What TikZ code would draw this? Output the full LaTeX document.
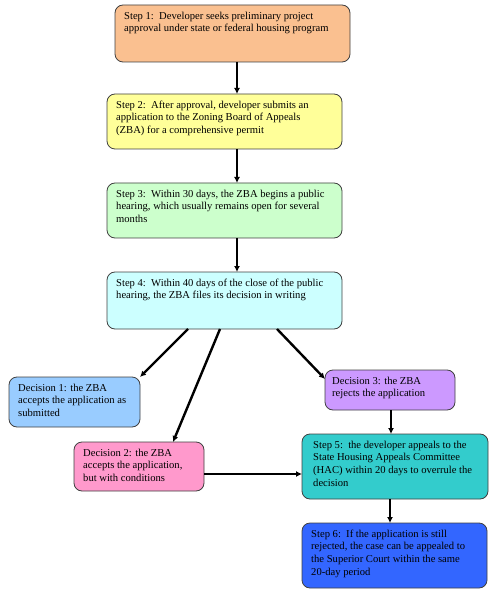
\documentclass[tikz,border=0pt]{standalone}
\usepackage{fontspec}
\setmainfont{Liberation Serif}
\usetikzlibrary{arrows.meta}
\definecolor{cS1}{HTML}{FAC090}
\definecolor{cS2}{HTML}{FFFF99}
\definecolor{cS3}{HTML}{CCFFCC}
\definecolor{cS4}{HTML}{CCFFFF}
\definecolor{cD1}{HTML}{99CCFF}
\definecolor{cD2}{HTML}{FF99CC}
\definecolor{cD3}{HTML}{CC99FF}
\definecolor{cS5}{HTML}{33CCCC}
\definecolor{cS6}{HTML}{3366FF}
\definecolor{edge}{HTML}{404040}
\tikzset{
  box/.style={draw=edge, line width=0.8pt, rounded corners=8pt, inner sep=0pt},
  txt/.style={anchor=north west, inner sep=0pt, align=left, font=\fontsize{10.6}{12.8}\selectfont},
  arr/.style={line width=2.4pt, -{Latex[length=6pt,width=6pt]}}
}
\begin{document}
\begin{tikzpicture}[x=1pt,y=-1pt]
\useasboundingbox (0,0) rectangle (495,593);
% boxes
\draw[box, fill=cS1] (115,5) rectangle (350,62);
\coordinate (s1s) at (237,62);
\draw[box, fill=cS2] (107,94) rectangle (342,149);
\coordinate (s2n) at (237,94);
\coordinate (s2s) at (237,149);
\draw[box, fill=cS3] (107,183) rectangle (342,238);
\coordinate (s3n) at (237,183);
\coordinate (s3s) at (237,238);
\draw[box, fill=cS4] (107,272) rectangle (342,329);
\coordinate (s4n) at (237,272);
\coordinate (s4a) at (188,329);
\coordinate (s4b) at (220,329);
\coordinate (s4c) at (277,329);
\draw[box, fill=cD1] (9,377) rectangle (140,427);
\coordinate (d1ne) at (140,377);
\draw[box, fill=cD2] (74,442) rectangle (204,491);
\coordinate (d2n) at (173,442);
\coordinate (d2e) at (204,474);
\draw[box, fill=cD3] (325,370) rectangle (455,410);
\coordinate (d3w) at (325,379);
\coordinate (d3s) at (391,410);
\draw[box, fill=cS5] (302,434) rectangle (488,499);
\coordinate (s5n) at (391,434);
\coordinate (s5w) at (302,474);
\coordinate (s5s) at (390,499);
\draw[box, fill=cS6] (302,523) rectangle (487,588);
\coordinate (s6n) at (390,523);
% texts
\node[txt] (t1) at (124,11.5) {Step 1:\ \ Developer seeks preliminary project\\approval under state or federal housing program};
\node[txt] (t2) at (116,100.5) {Step 2:\ \ After approval, developer submits an\\application to the Zoning Board of Appeals\\(ZBA) for a comprehensive permit};
\node[txt] (t3) at (116,189.5) {Step 3:\ \ Within 30 days, the ZBA begins a public\\hearing, which usually remains open for several\\months};
\node[txt] (t4) at (116,278.5) {Step 4:\ \ Within 40 days of the close of the public\\hearing, the ZBA files its decision in writing};
\node[txt] (td1) at (18,383.5) {Decision 1: the ZBA\\accepts the application as\\submitted};
\node[txt] (td2) at (83,448.5) {Decision 2: the ZBA\\accepts the application,\\but with conditions};
\node[txt] (td3) at (332,376.5) {Decision 3: the ZBA\\rejects the application};
\node[txt] (t5) at (313,440.5) {Step 5:\ \ the developer appeals to the\\State Housing Appeals Committee\\(HAC) within 20 days to overrule the\\decision};
\node[txt] (t6) at (311,529.5) {Step 6:\ \ If the application is still\\rejected, the case can be appealed to\\the Superior Court within the same\\20-day period};
% arrows
\draw[arr] (s1s) -- (s2n);
\draw[arr] (s2s) -- (s3n);
\draw[arr] (s3s) -- (s4n);
\draw[arr] (s4a) -- (d1ne);
\draw[arr] (s4b) -- (d2n);
\draw[arr] (s4c) -- (d3w);
\draw[arr] (d3s) -- (s5n);
\draw[arr] (d2e) -- (s5w);
\draw[arr] (s5s) -- (s6n);
\end{tikzpicture}
\end{document}
